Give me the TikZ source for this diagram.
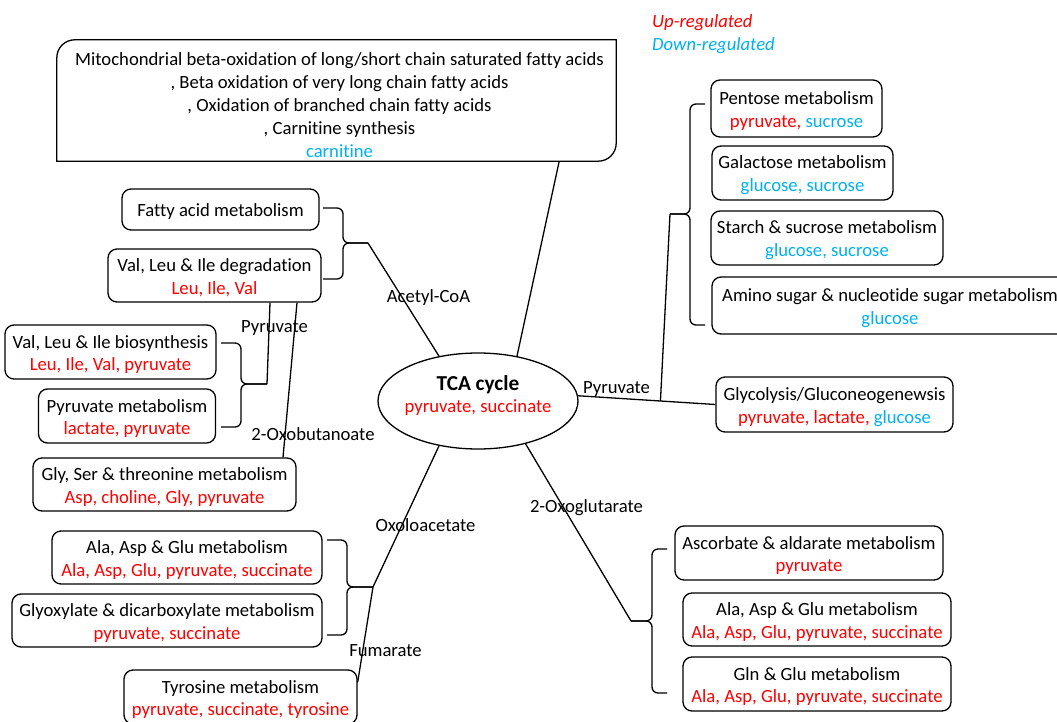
\documentclass[tikz,border=0pt]{standalone}
\usepackage{fontspec}
\setmainfont{Carlito}[Ligatures=NoCommon]
\usetikzlibrary{shapes.geometric,calc}
\definecolor{upc}{RGB}{255,0,0}
\definecolor{downc}{RGB}{0,176,240}
\newcommand\up[1]{\textcolor{upc}{#1}}
\newcommand\dn[1]{\textcolor{downc}{#1}}
\newcommand\tline[1]{\rule[-3pt]{0pt}{21pt}#1}
\begin{document}
\begin{tikzpicture}[x=1pt,y=-1pt,
  every node/.style={font=\fontsize{18.67}{22.8}\selectfont, inner sep=0pt},
  box/.style={draw, rounded corners=9pt, line width=1.3pt, align=center},
  conn/.style={line width=1.3pt},
  brace/.style={line width=1.3pt, rounded corners=6pt},
  lab/.style={anchor=base}]
\useasboundingbox (0,0) rectangle (1057,722);

% legend
\node[anchor=base west] (lup) at (652,28) {\itshape\up{Up-regulated}};
\node[anchor=base west] (ldn) at (652,51) {\itshape\dn{Down-regulated}};

% centre
\node[draw, ellipse, line width=1.3pt, minimum width=200pt, minimum height=96pt] (tca) at (478,401) {};
\node[align=center] (tcat) at (478,394) {\tline{\fontsize{21.3}{22.8}\selectfont\textbf{TCA cycle}}\\\tline{\up{pyruvate, succinate}}};

% top box
\node[minimum width=559pt, minimum height=121pt] (top) at (336.5,100.5) {};
\draw[line width=1.3pt] (top.south west) -- ($(top.north west)+(0,18)$)
  .. controls ($(top.north west)+(0,8)$) and ($(top.north west)+(8,0)$) .. ($(top.north west)+(18,0)$)
  -- (top.north east) -- ($(top.south east)+(0,-18)$)
  .. controls ($(top.south east)+(0,-8)$) and ($(top.south east)+(-8,0)$) .. ($(top.south east)+(-18,0)$)
  -- cycle;
\node[align=center] (topt) at (339.5,104) {\tline{Mitochondrial beta-oxidation of long/short chain saturated fatty acids}\\
  \tline{, Beta oxidation of very long chain fatty acids}\\
  \tline{, Oxidation of branched chain fatty acids}\\
  \tline{, Carnitine synthesis}\\
  \tline{\dn{carnitine}}};

% left boxes
\node[box, minimum width=197pt, minimum height=41pt] (fa) at (220.5,209.5) {\tline{Fatty acid metabolism}};
\node[box, minimum width=213pt, minimum height=53pt] (vlid) at (214.5,275.5) {\tline{Val, Leu \& Ile degradation}\\\tline{\up{Leu, Ile, Val}}};
\node[box, minimum width=211pt, minimum height=54pt] (vlib) at (110.5,352) {\tline{Val, Leu \& Ile biosynthesis}\\\tline{\up{Leu, Ile, Val, pyruvate}}};
\node[box, minimum width=177pt, minimum height=54pt] (pm) at (127,416) {\tline{Pyruvate metabolism}\\\tline{\up{lactate, pyruvate}}};
\node[box, minimum width=263pt, minimum height=53pt] (gst) at (164.5,484.5) {\tline{Gly, Ser \& threonine metabolism}\\\tline{\up{Asp, choline, Gly, pyruvate}}};
\node[box, minimum width=270pt, minimum height=53pt] (aag1) at (187,557.5) {\tline{Ala, Asp \& Glu metabolism}\\\tline{\up{Ala, Asp, Glu, pyruvate, succinate}}};
\node[box, minimum width=310pt, minimum height=53pt] (gdm) at (167,620.5) {\tline{Glyoxylate \& dicarboxylate metabolism}\\\tline{\up{pyruvate, succinate}}};
\node[box, minimum width=233pt, minimum height=54pt] (tyr) at (240.5,697) {\tline{Tyrosine metabolism}\\\tline{\up{pyruvate, succinate, tyrosine}}};

% right boxes
\node[box, minimum width=171pt, minimum height=57pt] (pen) at (796.5,108.5) {\tline{Pentose metabolism}\\\tline{\up{pyruvate,} \dn{sucrose}}};
\node[box, minimum width=181pt, minimum height=54pt] (gal) at (802.5,173) {\tline{Galactose metabolism}\\\tline{\dn{glucose, sucrose}}};
\node[box, minimum width=232pt, minimum height=54pt] (starch) at (827,238) {\tline{Starch \& sucrose metabolism}\\\tline{\dn{glucose, sucrose}}};
\node[box, minimum width=356pt, minimum height=57pt] (amino) at (890,305.5) {\tline{Amino sugar \& nucleotide sugar metabolism}\\\tline{\dn{glucose}}};
\node[box, minimum width=237pt, minimum height=55pt] (gly) at (834.5,404.5) {\tline{Glycolysis/Gluconeogenewsis}\\\tline{\up{pyruvate, lactate,} \dn{glucose}}};
\node[box, minimum width=268pt, minimum height=54pt] (asc) at (809,553) {\tline{Ascorbate \& aldarate metabolism}\\\tline{\up{pyruvate}}};
\node[box, minimum width=268pt, minimum height=53pt] (aag2) at (817,619.5) {\tline{Ala, Asp \& Glu metabolism}\\\tline{\up{Ala, Asp, Glu, pyruvate, succinate}}};
\node[box, minimum width=268pt, minimum height=54pt] (gln) at (817,684) {\tline{Gln \& Glu metabolism}\\\tline{\up{Ala, Asp, Glu, pyruvate, succinate}}};

% brace tips
\coordinate (acT) at (368,243);
\coordinate (pyT) at (267,384);
\coordinate (oxT) at (373,587);
\coordinate (rpT) at (670,214);
\coordinate (ogT) at (631,621);

% braces
\draw[brace] (323,208) -| (343,243) -- (acT);
\draw[brace] (323,279) -| (343,243) -- (acT);
\draw[brace] (221,343) -| (241,384) -- (pyT);
\draw[brace] (221,427) -| (241,384) -- (pyT);
\draw[brace] (327,540) -| (347,587) -- (oxT);
\draw[brace] (327,635) -| (347,587) -- (oxT);
\draw[brace] (705,104) -| (690,214) -- (rpT);
\draw[brace] (705,325) -| (690,214) -- (rpT);
\draw[brace] (667,549) -| (652,621) -- (ogT);
\draw[brace] (667,693) -| (652,621) -- (ogT);

% connectors
\draw[conn] ($(top.south east)+(-57,0)$) -- (tca.49);
\draw[conn] (acT) -- (tca.131);
\draw[conn] (pyT) -- ($(vlid.south)+(55.5,0)$);
\draw[conn] ($(vlid.south)+(82.5,0)$) -- ($(gst.north)+(118.5,0)$);
\draw[conn] (oxT) -- (tca.229);
\draw[conn] (oxT) -- ($(tyr.north east)+(0,13)$);
\draw[conn] (tca.3) -- (gly.west);
\coordinate (pj) at ($(tca.3)!0.6!(gly.west)$);
\draw[conn] (rpT) -- (pj);
\draw[conn] (ogT) -- (tca.-42);

% labels
\node[lab] (lac) at (428.5,302.5) {Acetyl-CoA};
\node[lab] (lpy) at (274.5,332.5) {Pyruvate};
\node[lab] (lob) at (313,440.5) {2-Oxobutanoate};
\node[lab] (lox) at (425.5,531.5) {Oxoloacetate};
\node[lab] (lfu) at (385.5,656.5) {Fumarate};
\node[lab] (lpr) at (616.5,393.5) {Pyruvate};
\node[lab] (log) at (586.5,512.5) {2-Oxoglutarate};
\end{tikzpicture}
\end{document}
